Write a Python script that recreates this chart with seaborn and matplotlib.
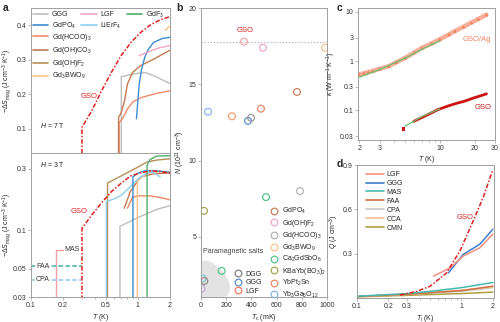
import numpy as np
import pandas as pd
import matplotlib
matplotlib.use('Agg')
import matplotlib.pyplot as plt
import seaborn as sns
from matplotlib.lines import Line2D
from matplotlib.patches import Polygon
import matplotlib.ticker as mt

sns.set_theme(style='ticks')
plt.rcParams['font.family'] = ['Liberation Sans', 'DejaVu Sans']
plt.rcParams['mathtext.fontset'] = 'custom'
plt.rcParams['mathtext.rm'] = 'Liberation Sans'
plt.rcParams['mathtext.it'] = 'Liberation Sans:italic'
plt.rcParams['mathtext.bf'] = 'Liberation Sans:bold'
plt.rcParams['font.size'] = 5.0

# ---------------- Panel a data (H = 7 T, linear) ----------------
a7_GSO_T = [0.3, 0.3, 0.37, 0.457, 0.564, 0.697, 0.86, 1.06, 1.31, 1.62, 2.0]
a7_GSO_S = [0.0, 0.104, 0.152, 0.21, 0.263, 0.312, 0.35, 0.379, 0.401, 0.416, 0.425]
a7_GGG_T = [0.70, 0.70, 0.85, 1.0, 1.18, 1.5, 2.0]
a7_GGG_S = [0.0, 0.251, 0.257, 0.261, 0.263, 0.25, 0.231]
a7_HCOO_T = [0.668, 0.668, 0.72, 0.8, 0.9, 1.06, 1.5, 2.0]
a7_HCOO_S = [0.0, 0.118, 0.13, 0.158, 0.178, 0.19, 0.203, 0.21]
a7_OHCO3_T = [0.66, 0.66, 0.70, 0.75, 0.80, 0.89, 1.06, 1.41, 2.0]
a7_OHCO3_S = [0.0, 0.133, 0.147, 0.181, 0.23, 0.263, 0.283, 0.302, 0.328]
a7_PO4_T = [0.97, 1.0, 1.03, 1.08, 1.16, 1.25, 1.4, 1.7, 2.0]
a7_PO4_S = [0.129, 0.18, 0.23, 0.27, 0.307, 0.33, 0.35, 0.362, 0.365]
a7_LGF_T = [1.03, 1.3, 1.6, 2.0]
a7_LGF_S = [0.312, 0.325, 0.335, 0.341]
a7_BWO_T = [1.8, 1.9, 2.0]
a7_BWO_S = [0.385, 0.392, 0.397]

# ---------------- Panel a data (H = 3 T, log) ----------------
a3_GSO_T = [0.3, 0.3, 0.37, 0.457, 0.564, 0.697, 0.86, 1.06, 1.31, 1.6, 2.0]
a3_GSO_S = [0.02, 0.103, 0.131, 0.163, 0.199, 0.232, 0.265, 0.28, 0.29, 0.287, 0.278]
a3_LiEr_T = [0.507, 0.507, 0.6, 0.7, 0.86, 1.0, 1.22, 1.4, 1.62]
a3_LiEr_S = [0.02, 0.167, 0.175, 0.187, 0.22, 0.25, 0.28, 0.28, 0.26]
a3_GdF3_T = [1.22, 1.22, 1.3, 1.5, 1.7, 2.0]
a3_GdF3_S = [0.02, 0.32, 0.355, 0.378, 0.38, 0.38]
a3_OHF2_T = [0.52, 0.52, 0.7, 1.0, 1.22, 1.5, 2.0]
a3_OHF2_S = [0.02, 0.233, 0.265, 0.31, 0.34, 0.352, 0.36]
a3_PO4_T = [0.9, 0.9, 1.0, 1.16, 1.5, 2.0]
a3_PO4_S = [0.02, 0.26, 0.278, 0.29, 0.29, 0.283]
a3_OHCO3_T = [0.746, 0.85, 1.06, 1.4, 2.0]
a3_OHCO3_S = [0.148, 0.2, 0.26, 0.275, 0.279]
a3_HCOO_T = [0.8, 0.89, 1.0, 1.3, 1.6, 2.0]
a3_HCOO_S = [0.148, 0.18, 0.185, 0.185, 0.18, 0.172]
a3_GGG_T = [0.68, 0.68, 1.0, 1.5, 2.0]
a3_GGG_S = [0.02, 0.107, 0.125, 0.145, 0.155]
a3_BWO_T = [0.99, 0.99, 1.1, 1.3, 1.6, 2.0]
a3_BWO_S = [0.02, 0.24, 0.262, 0.28, 0.285, 0.28]
a3_MAS_T = [0.17, 0.17, 0.3]
a3_MAS_S = [0.02, 0.07, 0.07]
a3_FAA_T = [0.1, 0.3]
a3_FAA_S = [0.052, 0.052]
a3_CPA_T = [0.1, 0.3]
a3_CPA_S = [0.041, 0.041]

# ---------------- Panel b data ----------------
b_Tc = [341, 492, 985, 56, 246, 373, 397, 476, 762, 516, 786, 24, 164, 13, 26, 5]
b_N = [17.8, 17.4, 17.4, 13.2, 12.9, 12.6, 12.8, 13.4, 14.5, 7.6, 8.0, 6.7, 2.76, 2.27, 2.1, 1.6]
b_col = ['#f2a7ae', '#f4a6cc', '#f8c28e', '#86b6e6', '#f4a070', '#5a8fd6', '#9a9a9a',
         '#f08a6a', '#c8805a', '#55c48a', '#b5b5b5', '#a6a452', '#55c48a', '#7cc8d8',
         '#9a8a80', '#c0a8d8']
b_GSO_line = 17.8
blob_Tc = [0, 40, 90, 140, 185, 215, 232, 230, 215, 190, 0]
blob_N = [3.4, 3.45, 3.3, 3.0, 2.6, 2.2, 1.8, 1.45, 1.2, 1.05, 1.05]
b_leg1_names = ['GdPO$_4$', 'Gd(OH)F$_2$', 'Gd(HCOO)$_3$', 'Gd$_3$BWO$_9$', 'Ca$_2$GdSbO$_6$',
                'KBaYb(BO$_3$)$_2$', 'YbPt$_2$Sn', 'Yb$_3$Ga$_5$O$_{12}$']
b_leg1_cols = ['#c8805a', '#f4a6cc', '#b5b5b5', '#f8c28e', '#55c48a', '#a6a452', '#f08a6a', '#86b6e6']
b_leg2_names = ['DGG', 'GGG', 'LGF']
b_leg2_cols = ['#808080', '#5a8fd6', '#f07a60']

# ---------------- Panel c data ----------------
c_Ag_T = [2.0, 2.2, 2.4, 2.6, 3.0, 3.6, 4.2, 5.0, 6.0, 7.0, 8.5, 10.0, 12.0, 13.5, 16.0, 18.8, 21.5, 25.3]
c_Ag_k = [0.54, 0.57, 0.60, 0.63, 0.70, 0.79, 0.95, 1.17, 1.5, 1.87, 2.3, 2.8, 3.5, 4.1, 5.0, 6.1, 7.2, 8.8]
c_Ag_fitT = [2.0, 3.0, 5.0, 7.0, 10.0]
c_Ag_fitk = [0.47, 0.68, 1.15, 1.75, 2.6]
c_G_T0 = [4.87]
c_G_k0 = [0.042]
c_G_T = [5.93, 7.0, 8.5, 9.72, 12.0, 14.0, 16.5, 19.0, 22.0, 25.3]
c_G_k = [0.06, 0.072, 0.09, 0.105, 0.125, 0.14, 0.155, 0.175, 0.195, 0.217]
c_G_fitT = [5.0, 7.0, 10.0]
c_G_fitk = [0.048, 0.075, 0.108]

# ---------------- Panel d data ----------------
d_GSO_T = [0.258, 0.372, 0.5, 0.72, 0.967, 1.3, 1.62, 2.0]
d_GSO_Q = [0.02, 0.045, 0.079, 0.17, 0.318, 0.524, 0.683, 0.87]
d_series = {
    'LGF': ([0.54, 0.78, 1.04, 1.5, 2.0], [0.148, 0.204, 0.284, 0.34, 0.432], '#f49080'),
    'GGG': ([0.75, 1.04, 1.5, 2.0], [0.17, 0.295, 0.364, 0.466], '#3d7fd0'),
    'MAS': ([0.1, 0.3, 0.5, 1.0, 2.0], [0.012, 0.03, 0.045, 0.07, 0.105], '#45b8b0'),
    'FAA': ([0.1, 0.3, 1.0, 2.0], [0.01, 0.025, 0.05, 0.08], '#d07040'),
    'CPA': ([0.1, 0.3, 1.0, 2.0], [0.01, 0.025, 0.045, 0.07], '#c8c8c8'),
    'CCA': ([0.1, 0.3, 1.0, 2.0], [0.01, 0.027, 0.052, 0.075], '#f8c090'),
    'CMN': ([0.1, 0.3, 1.0, 2.0], [0.008, 0.018, 0.03, 0.04], '#b0a040'),
}

RED = '#e02020'
C = {'GGG': '#bdbdbd', 'LGF': '#f4a6c6', 'GdF3': '#4fae6a', 'GdPO4': '#3d8bd0',
     'LiErF4': '#8fcff0', 'HCOO': '#f08a6a', 'OHCO3': '#c47a50', 'OHF2': '#b8905a',
     'BWO': '#f8c088'}
FS = 5.0

fig = plt.figure(figsize=(5.0, 3.22), dpi=100)
axa1 = fig.add_axes([0.062, 0.525, 0.278, 0.45])
axa2 = fig.add_axes([0.062, 0.0776, 0.278, 0.4474])
axb = fig.add_axes([0.402, 0.0776, 0.252, 0.8974])
axc = fig.add_axes([0.716, 0.565, 0.274, 0.41])
axd = fig.add_axes([0.714, 0.0745, 0.274, 0.413])

SP = '#a0a0a0'
for ax in [axa1, axa2, axb, axc, axd]:
    for s in ax.spines.values():
        s.set_color(SP)
        s.set_linewidth(0.7)
    ax.tick_params(which='both', direction='out', color=SP, width=0.5, labelsize=FS, pad=1.2,
                   labelcolor='#333333')
    ax.tick_params(which='major', length=2.2)
    ax.tick_params(which='minor', length=1.3)


def line(ax, x, y, color, lw=1.0, ls='-', **kw):
    df = pd.DataFrame({'x': x, 'y': y})
    sns.lineplot(data=df, x='x', y='y', ax=ax, color=color, lw=lw, linestyle=ls,
                 estimator=None, sort=False, legend=False, **kw)

DASHDOT = (0, (3, 1.2, 1, 1.2))
YLAB_A = r'$-\Delta S_{\rm mag}$ (J cm$^{-3}$ K$^{-1}$)'
# ---- panel a top ----
line(axa1, a7_GGG_T, a7_GGG_S, C['GGG'])
line(axa1, a7_HCOO_T, a7_HCOO_S, C['HCOO'])
line(axa1, a7_OHCO3_T, a7_OHCO3_S, C['OHCO3'])
line(axa1, a7_PO4_T, a7_PO4_S, C['GdPO4'])
line(axa1, a7_LGF_T, a7_LGF_S, C['LGF'])
line(axa1, a7_BWO_T, a7_BWO_S, C['BWO'])
line(axa1, a7_GSO_T, a7_GSO_S, RED, lw=1.1, ls=DASHDOT)
axa1.set_xscale('log')
axa1.set_xlim(0.1, 2.0)
axa1.set_ylim(0.03, 0.45)
axa1.set_yticks([0.1, 0.2, 0.3, 0.4])
axa1.set_yticklabels(['0.1', '0.2', '0.3', '0.4'])
axa1.xaxis.set_major_locator(mt.FixedLocator([0.1, 0.2, 0.5, 1, 2]))
axa1.xaxis.set_minor_locator(mt.LogLocator(subs=np.arange(2, 10)))
axa1.set_xticklabels([])
axa1.xaxis.set_minor_formatter(mt.NullFormatter())
axa1.set_xlabel('')
axa1.set_ylabel(YLAB_A, fontsize=FS)
axa1.yaxis.set_label_coords(-0.125, 0.5)
axa1.text(0.063, 0.17, r'$H$ = 7 T', transform=axa1.transAxes, fontsize=FS, color='#222222')
axa1.text(0.347, 0.193, 'GSO', color=RED, fontsize=5.5, ha='center', va='center')

h1 = [Line2D([], [], color=C[k], lw=1.2) for k in ['GGG', 'GdPO4', 'LGF', 'LiErF4', 'GdF3']]
n1 = ['GGG', 'GdPO$_4$', 'LGF', 'LiErF$_4$', 'GdF$_3$']
leg1 = axa1.legend(h1, n1, ncol=3, loc='upper left', bbox_to_anchor=(0.01, 0.995), frameon=False,
                   fontsize=FS, handlelength=2.2, handletextpad=0.5, columnspacing=0.8,
                   labelspacing=0.3, borderaxespad=0.0, borderpad=0.1)
axa1.add_artist(leg1)
h2 = [Line2D([], [], color=C[k], lw=1.2) for k in ['HCOO', 'OHCO3', 'OHF2', 'BWO']]
n2 = ['Gd(HCOO)$_3$', 'Gd(OH)CO$_3$', 'Gd(OH)F$_2$', 'Gd$_3$BWO$_9$']
axa1.legend(h2, n2, loc='upper left', bbox_to_anchor=(0.01, 0.84), frameon=False, fontsize=FS,
            handlelength=2.2, handletextpad=0.5, labelspacing=0.3, borderaxespad=0.0, borderpad=0.1)

# ---- panel a bottom ----
line(axa2, a3_GGG_T, a3_GGG_S, C['GGG'])
line(axa2, a3_HCOO_T, a3_HCOO_S, C['HCOO'])
line(axa2, a3_OHCO3_T, a3_OHCO3_S, C['OHCO3'])
line(axa2, a3_OHF2_T, a3_OHF2_S, C['OHF2'])
line(axa2, a3_BWO_T, a3_BWO_S, C['BWO'])
line(axa2, a3_LiEr_T, a3_LiEr_S, C['LiErF4'])
line(axa2, a3_PO4_T, a3_PO4_S, C['GdPO4'])
line(axa2, a3_GdF3_T, a3_GdF3_S, C['GdF3'])
line(axa2, a3_MAS_T, a3_MAS_S, '#f4a0a8')
line(axa2, a3_FAA_T, a3_FAA_S, '#40b0a8', lw=1.1, ls=(0, (3, 1.5)))
line(axa2, a3_CPA_T, a3_CPA_S, '#90c8ee', lw=1.1, ls=(0, (3, 1.5)))
line(axa2, a3_GSO_T, a3_GSO_S, RED, lw=1.1, ls=DASHDOT)
axa2.set_xscale('log')
axa2.set_yscale('log')
axa2.set_xlim(0.1, 2.0)
axa2.set_ylim(0.03, 0.4)
axa2.yaxis.set_major_locator(mt.FixedLocator([0.03, 0.05, 0.1, 0.3]))
axa2.yaxis.set_minor_locator(mt.NullLocator())
axa2.set_yticklabels(['0.03', '0.05', '0.1', '0.3'])
axa2.xaxis.set_major_locator(mt.FixedLocator([0.1, 0.2, 0.5, 1, 2]))
axa2.xaxis.set_minor_locator(mt.LogLocator(subs=np.arange(2, 10)))
axa2.xaxis.set_minor_formatter(mt.NullFormatter())
axa2.set_xticklabels(['0.1', '0.2', '0.5', '1', '2'])
axa2.set_xlabel(r'$T$ (K)', fontsize=FS, labelpad=2)
axa2.set_ylabel(YLAB_A, fontsize=FS)
axa2.yaxis.set_label_coords(-0.125, 0.5)
axa2.text(0.063, 0.9, r'$H$ = 3 T', transform=axa2.transAxes, fontsize=FS, color='#222222')
axa2.text(0.281, 0.14, 'GSO', color=RED, fontsize=5.5, ha='center', va='center')
bb = dict(facecolor='white', edgecolor='none', pad=0.6)
axa2.text(0.243, 0.07, 'MAS', fontsize=FS, ha='center', va='center', bbox=bb, color='#333333')
axa2.text(0.129, 0.052, 'FAA', fontsize=FS, ha='center', va='center', bbox=bb, color='#333333')
axa2.text(0.129, 0.041, 'CPA', fontsize=FS, ha='center', va='center', bbox=bb, color='#333333')

# ---- panel b ----
axb.add_patch(Polygon(np.column_stack([blob_Tc, blob_N]), closed=True, facecolor='#e3e3e3',
                      edgecolor='none', zorder=0))
axb.axhline(b_GSO_line, color='#b8b8b8', lw=0.9, ls=(0, (1, 1.5)), zorder=1)
dfb = pd.DataFrame({'Tc': b_Tc, 'N': b_N, 'c': b_col})
for _, r in dfb.iterrows():
    sns.scatterplot(x=[r.Tc], y=[r.N], ax=axb, marker='o', s=24, facecolor='none',
                    edgecolor=r.c, linewidth=0.9, zorder=3, legend=False)
axb.text(349, 18.56, 'GSO', color=RED, fontsize=5.5, ha='center', va='center')
axb.text(15, 4.05, 'Paramagnetic salts', fontsize=FS, color='#444444', ha='left', va='center')
axb.set_xlim(0, 1000)
axb.set_ylim(1.05, 20)
axb.set_xticks([0, 200, 400, 600, 800, 1000])
axb.set_xticklabels(['0', '200', '400', '600', '800', '1000'])
axb.set_yticks([5, 10, 15, 20])
axb.set_yticklabels(['5', '10', '15', '20'])
axb.set_xlabel(r'$T_{\rm c}$ (mK)', fontsize=FS, labelpad=2)
axb.set_ylabel(r'$N$ (10$^{21}$ cm$^{-3}$)', fontsize=FS, labelpad=1)
hb1 = [Line2D([], [], ls='none', marker='o', ms=4.8, mfc='none', mec=c, mew=0.9) for c in b_leg1_cols]
legb1 = axb.legend(hb1, b_leg1_names, loc='lower left', bbox_to_anchor=(0.55, -0.012), frameon=False,
                   fontsize=FS, handlelength=1.0, handletextpad=0.6, labelspacing=0.2,
                   borderaxespad=0.0, borderpad=0.1)
axb.add_artist(legb1)
hb2 = [Line2D([], [], ls='none', marker='o', ms=4.8, mfc='none', mec=c, mew=0.9) for c in b_leg2_cols]
axb.legend(hb2, b_leg2_names, loc='lower left', bbox_to_anchor=(0.26, 0.005), frameon=False,
           fontsize=FS, handlelength=1.0, handletextpad=0.6, labelspacing=0.22,
           borderaxespad=0.0, borderpad=0.1)

# ---- panel c ----
line(axc, c_Ag_T, c_Ag_k, '#f6a58e', lw=3.2, alpha=0.9)
sns.scatterplot(x=c_Ag_T, y=c_Ag_k, ax=axc, marker='^', s=6, color='#f47c5c', edgecolor='none',
                legend=False, zorder=3)
line(axc, c_Ag_fitT, c_Ag_fitk, '#6cbf6c', lw=0.9, zorder=4)
line(axc, c_G_T, c_G_k, '#cc1414', lw=2.0)
sns.scatterplot(x=c_G_T0, y=c_G_k0, ax=axc, marker='s', s=5, color='#cc1414',
                edgecolor='none', legend=False, zorder=3)
line(axc, c_G_fitT, c_G_fitk, '#6cbf6c', lw=0.9, zorder=4)
axc.set_xscale('log')
axc.set_yscale('log')
axc.set_xlim(1.95, 30)
axc.set_ylim(0.025, 12)
axc.xaxis.set_major_locator(mt.FixedLocator([2, 3, 10, 20, 30]))
axc.xaxis.set_minor_locator(mt.FixedLocator([4, 5, 6, 7, 8, 9]))
axc.xaxis.set_minor_formatter(mt.NullFormatter())
axc.set_xticklabels(['2', '3', '10', '20', '30'])
axc.yaxis.set_major_locator(mt.FixedLocator([0.03, 0.1, 0.3, 1, 3, 10]))
axc.yaxis.set_minor_locator(mt.NullLocator())
axc.set_yticklabels(['0.03', '0.1', '0.3', '1', '3', '10'])
axc.set_xlabel(r'$T$ (K)', fontsize=FS, labelpad=1.5)
axc.set_ylabel(r'$\kappa$ (W m$^{-1}$ K$^{-1}$)', fontsize=FS, labelpad=1)
axc.text(21.0, 2.8, 'GSO/Ag', color='#f47c5c', fontsize=5.5, ha='center', va='center')
axc.text(23.7, 0.116, 'GSO', color='#cc1414', fontsize=5.5, ha='center', va='center')

# ---- panel d ----
order_d = ['LGF', 'GGG', 'MAS', 'FAA', 'CPA', 'CCA', 'CMN']
for k in ['CMN', 'CPA', 'CCA', 'FAA', 'MAS', 'GGG', 'LGF']:
    x, y, c = d_series[k]
    line(axd, x, y, c, lw=1.1)
line(axd, d_GSO_T, d_GSO_Q, RED, lw=1.1, ls=DASHDOT)
axd.set_xscale('log')
axd.set_xlim(0.1, 2.05)
axd.set_ylim(0, 0.9)
axd.set_yticks([0.3, 0.6, 0.9])
axd.set_yticklabels(['0.3', '0.6', '0.9'])
axd.xaxis.set_major_locator(mt.FixedLocator([0.1, 0.2, 0.3, 1, 2]))
axd.xaxis.set_minor_locator(mt.LogLocator(subs=np.arange(2, 10)))
axd.xaxis.set_minor_formatter(mt.NullFormatter())
axd.set_xticklabels(['0.1', '0.2', '0.3', '1', '2'])
axd.set_xlabel(r'$T_{\rm i}$ (K)', fontsize=FS, labelpad=2)
axd.set_ylabel(r'$Q$ (J cm$^{-3}$)', fontsize=FS, labelpad=1)
axd.text(1.08, 0.546, 'GSO', color=RED, fontsize=5.5, ha='center', va='center')
hd = [Line2D([], [], color=d_series[k][2], lw=1.2) for k in order_d]
axd.legend(hd, order_d, loc='upper left', bbox_to_anchor=(0.06, 0.96), frameon=False, fontsize=FS,
           handlelength=2.6, handletextpad=0.4, labelspacing=0.28, borderaxespad=0.0, borderpad=0.1)

# panel letters
for lab, x, y in [('a', 0.006, 0.99), ('b', 0.352, 0.99), ('c', 0.674, 0.99), ('d', 0.674, 0.505)]:
    fig.text(x, y, lab, fontsize=7.5, fontweight='bold', ha='left', va='top')

fig.savefig('out.png', dpi=100)
